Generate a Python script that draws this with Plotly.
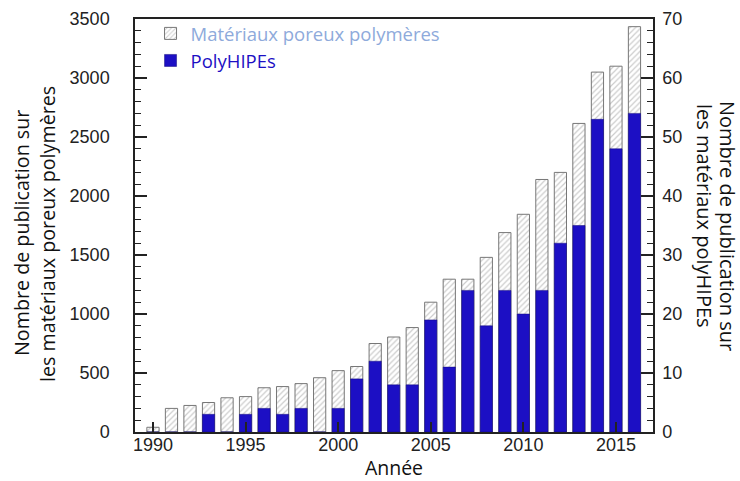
import plotly.graph_objects as go

years = list(range(1990, 2017))
porous_total = [40, 200, 225, 250, 290, 300, 375, 385, 410, 460, 520, 555, 750, 805, 885,
                1100, 1295, 1295, 1480, 1690, 1845, 2140, 2200, 2615, 3050, 3100, 3435]
polyhipes = [0, 0, 0, 3, 0, 3, 4, 3, 4, 0, 4, 9, 12, 8, 8,
             19, 11, 24, 18, 24, 20, 24, 32, 35, 53, 48, 54]

name_porous = "Matériaux poreux polymères"
name_hipe = "PolyHIPEs"
left_title = ["Nombre de publication sur", "les matériaux poreux polymères"]
right_title = ["Nombre de publication sur", "les matériaux polyHIPEs"]
x_title = "Année"

BLUE = "#1c0fc4"
TICKFONT = dict(family="Liberation Sans, Arial", size=18, color="#222")
LABELFONT = "Open Sans, sans-serif"

# plot-area geometry in pixels (for converting annotation positions)
L, R, T, B = 135, 87, 19, 49
PW, PH = 740 - L - R, 481 - T - B


def px(x):
    return (x - L) / PW


def py(y):
    return (481 - B - y) / PH


fig = go.Figure()
fig.add_trace(go.Bar(
    x=years, y=porous_total,
    name=f"<span style='color:#8eaadb'>{name_porous}</span>", width=0.66,
    marker=dict(color="white", line=dict(color="#777", width=1),
                pattern=dict(shape="/", fgcolor="#999", bgcolor="white", size=4, solidity=0.3)),
    yaxis="y",
))
fig.add_trace(go.Bar(
    x=years, y=polyhipes,
    name=f"<span style='color:{BLUE}'>{name_hipe}</span>", width=0.66,
    marker=dict(color=BLUE, line=dict(color="#10087a", width=0.5)),
    yaxis="y2",
))

fig.update_layout(
    width=740, height=481,
    margin=dict(l=L, r=R, t=T, b=B, autoexpand=False),
    paper_bgcolor="white", plot_bgcolor="white",
    barmode="overlay",
    showlegend=True,
    legend=dict(x=0.03, y=1.01, xanchor="left", yanchor="top",
                bgcolor="rgba(0,0,0,0)", font=dict(family=LABELFONT, size=18.5),
                tracegroupgap=0, itemwidth=30),
    xaxis=dict(range=[1989.03, 2017], tickvals=[1990, 1995, 2000, 2005, 2010, 2015],
               ticks="inside", ticklen=10, tickwidth=1.5, tickcolor="#222",
               showline=True, linecolor="#222", linewidth=1.5, mirror=True,
               showgrid=False, zeroline=False, tickfont=TICKFONT, ticklabelstandoff=-4,
               title=dict(text=x_title, font=dict(family=LABELFONT, size=19.5, color="#111"), standoff=8)),
    yaxis=dict(range=[0, 3500], dtick=500, ticks="inside", ticklen=12, tickwidth=1.5, tickcolor="#222",
               minor=dict(dtick=100, ticks="inside", ticklen=6, tickcolor="#222", tickwidth=1.2),
               showline=True, linecolor="#222", linewidth=1.5, showgrid=False, zeroline=False,
               tickfont=TICKFONT, ticklabelstandoff=20),
    yaxis2=dict(range=[0, 70], dtick=10, overlaying="y", side="right",
                ticks="inside", ticklen=12, tickwidth=1.5, tickcolor="#222",
                minor=dict(dtick=2, ticks="inside", ticklen=6, tickcolor="#222", tickwidth=1.2),
                showline=True, linecolor="#222", linewidth=1.5, showgrid=False, zeroline=False,
                tickfont=TICKFONT, ticklabelstandoff=4),
    annotations=[
        dict(text=left_title[0], xref="paper", yref="paper", x=px(21), y=py(233),
             xanchor="center", yanchor="middle", textangle=-90, showarrow=False,
             font=dict(family=LABELFONT, size=19.7, color="#111")),
        dict(text=left_title[1], xref="paper", yref="paper", x=px(47), y=py(234),
             xanchor="center", yanchor="middle", textangle=-90, showarrow=False,
             font=dict(family=LABELFONT, size=19.7, color="#111")),
        dict(text=right_title[0], xref="paper", yref="paper", x=px(728), y=py(226),
             xanchor="center", yanchor="middle", textangle=90, showarrow=False,
             font=dict(family=LABELFONT, size=20, color="#111")),
        dict(text=right_title[1], xref="paper", yref="paper", x=px(705), y=py(216),
             xanchor="center", yanchor="middle", textangle=90, showarrow=False,
             font=dict(family=LABELFONT, size=20, color="#111")),
    ],
)

fig.write_html("out.html", config={"displayModeBar": False},
               post_script="document.body.style.margin='0px';")
